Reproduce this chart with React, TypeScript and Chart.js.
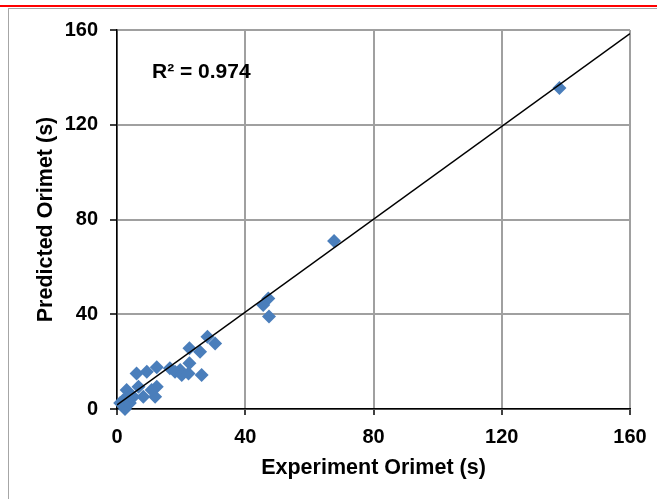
import React, { useEffect, useRef } from "react";
import { Chart, registerables } from "chart.js";

Chart.register(...registerables);

// Experimental vs predicted Orimet flow times (s)
const experimentX = [138, 67.7, 47.2, 45.6, 47.4, 28.2, 30.6, 22.6, 25.9, 22.6, 19.7, 16.5, 12.4, 9.3, 6.1, 18.1, 20.2, 22.3, 26.4, 12.4, 11.9, 3, 6.7, 8.2, 5.1, 2, 2.5, 1, 4, 10.8, 4.1];
const predictedY = [135.5, 70.9, 46.7, 43.9, 39, 30.5, 27.7, 25.6, 24.2, 19.3, 16.5, 17.2, 17.6, 15.7, 15, 15.7, 14.4, 15, 14.4, 9.4, 5.2, 8, 9.4, 5.2, 5.2, 3.8, 0, 2.5, 2.5, 8, 5.5];

// Linear trend line end points
const trendX = [0, 160];
const trendY = [1.7, 158.5];

const axisMin = 0;
const axisMax = 160;
const axisStep = 40;

const r2Label = "R² = 0.974";
const xTitle = "Experiment Orimet (s)";
const yTitle = "Predicted Orimet (s)";

const FONT = "'Liberation Sans', Arial, sans-serif";

const r2Plugin = {
  id: "r2Label",
  afterDatasetsDraw(chart: any) {
    const { ctx, chartArea } = chart;
    ctx.save();
    ctx.font = `bold 21px ${FONT}`;
    ctx.fillStyle = "#000";
    ctx.textBaseline = "middle";
    ctx.textAlign = "left";
    ctx.fillText(r2Label, chartArea.left + 35, chartArea.top + 42.5);
    ctx.restore();
  },
};

export default function App() {
  const ref = useRef<HTMLCanvasElement | null>(null);

  useEffect(() => {
    if (!ref.current) return;
    const scatterData = experimentX.map((x, i) => ({ x, y: predictedY[i] }));
    const trendData = trendX.map((x, i) => ({ x, y: trendY[i] }));
    const chart = new Chart(ref.current, {
      type: "scatter",
      data: {
        datasets: [
          {
            type: "line",
            label: "Trend",
            data: trendData,
            borderColor: "#000000",
            borderWidth: 1.5,
            pointRadius: 0,
            fill: false,
          } as any,
          {
            label: "Orimet",
            data: scatterData,
            pointStyle: "rectRot",
            pointRadius: 7,
            pointHoverRadius: 7,
            pointBackgroundColor: "#4a7ebb",
            pointBorderColor: "#4a7ebb",
            pointBorderWidth: 0,
            clip: false,
          } as any,
        ],
      },
      options: {
        animation: false,
        responsive: false,
        events: [],
        layout: { padding: { left: 0, top: 30, right: 27, bottom: 0 } },
        plugins: {
          legend: { display: false },
          tooltip: { enabled: false },
        },
        scales: {
          x: {
            type: "linear",
            min: axisMin,
            max: axisMax,
            afterFit: (s: any) => {
              s.height = 90;
            },
            ticks: {
              stepSize: axisStep,
              color: "#000",
              padding: 10,
              font: { family: FONT, size: 20, weight: "bold" },
            },
            grid: {
              color: "#a0a0a0",
              lineWidth: 2,
              tickColor: "#000",
              tickWidth: 1.5,
              tickLength: 6,
            },
            border: { color: "#000", width: 1.5 },
            title: {
              display: true,
              text: xTitle,
              color: "#000",
              font: { family: FONT, size: 21.5, weight: "bold" },
              padding: { top: 0, bottom: 18 },
            },
          },
          y: {
            type: "linear",
            min: axisMin,
            max: axisMax,
            afterFit: (s: any) => {
              s.width = 117;
            },
            ticks: {
              stepSize: axisStep,
              color: "#000",
              padding: 12,
              font: { family: FONT, size: 20, weight: "bold" },
            },
            grid: {
              color: "#a0a0a0",
              lineWidth: 2,
              tickColor: "#000",
              tickWidth: 1.5,
              tickLength: 7,
            },
            border: { color: "#000", width: 1.5 },
            title: {
              display: true,
              text: yTitle,
              color: "#000",
              font: { family: FONT, size: 21.5, weight: "bold" },
              padding: { top: 33, bottom: 0 },
            },
          },
        },
      },
      plugins: [r2Plugin],
    });
    return () => chart.destroy();
  }, []);

  return (
    <div
      style={{
        position: "fixed",
        left: 0,
        top: 0,
        width: 657,
        height: 499,
        overflow: "hidden",
        background: "#ffffff",
      }}
    >
      <div
        style={{
          position: "absolute",
          left: 0,
          top: 5,
          width: 657,
          height: 2,
          background: "#ff0000",
        }}
      />
      <div
        style={{
          position: "absolute",
          left: 8,
          top: 8,
          width: 700,
          height: 600,
          border: "1px solid #a6a6a6",
        }}
      />
      <canvas
        ref={ref}
        width={657}
        height={499}
        style={{ position: "absolute", left: 0, top: 0, width: 657, height: 499 }}
      />
    </div>
  );
}
